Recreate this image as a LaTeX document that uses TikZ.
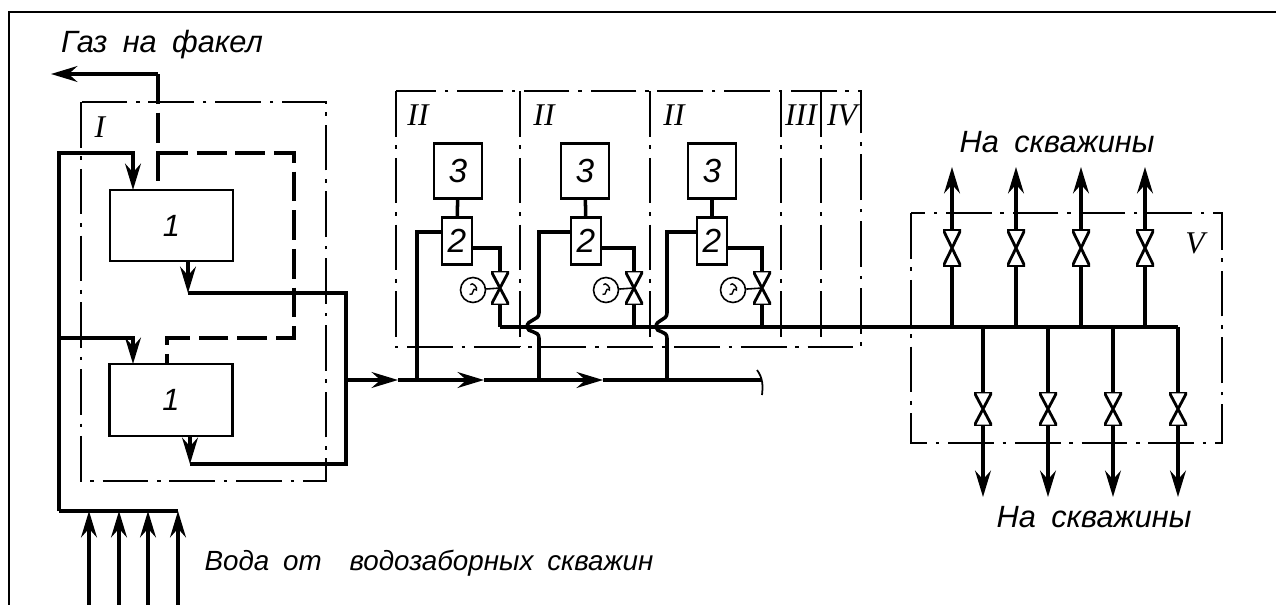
\documentclass[tikz,border=0pt]{standalone}
\usepackage{fontspec}
\setmainfont{Liberation Sans}
\newfontfamily\romfont{Liberation Serif}
\usetikzlibrary{arrows.meta,positioning,calc}

\begin{document}
\begin{tikzpicture}[x=0.02cm,y=-0.02cm,font=\itshape\fontsize{17.5}{20}\selectfont,
  >={Stealth[length=15pt,width=9pt,inset=5pt]},
  pipe/.style={line width=2pt,line join=miter},
  gasline/.style={pipe,dash pattern=on 17pt off 5pt},
  zone/.style={line width=0.9pt,dash pattern=on 26pt off 5pt on 2pt off 5pt},
  unit/.style={draw,line width=1.2pt,inner sep=0pt},
  rom/.style={font=\romfont\itshape\fontsize{18}{18}\selectfont,inner sep=0pt},
  valve/.style={inner sep=0pt,minimum width=0.36cm,minimum height=0.68cm,path picture={
    \draw[line width=1.6pt,fill=white] (path picture bounding box.north west) -- (path picture bounding box.south east)
      -- (path picture bounding box.south west) -- (path picture bounding box.north east) -- cycle;}}]
  \useasboundingbox (0,0) rectangle (1276,605);
  \draw[line width=1.3pt] (9,605) -- (9,12) -- (1276,12);

  % zones
  \draw[zone] (81,102) rectangle (326,481);
  \draw[zone] (396,91) rectangle (861,347);
  \foreach \xz in {520,650,781,821} \draw[zone] (\xz,91) -- (\xz,347);
  \draw[zone] (911,213) rectangle (1222,443);
  \node[rom] (zoneI) at (100,127) {I};
  \foreach \n/\xz in {a/418,b/544,c/674} \node[rom] (zoneII\n) at (\xz,115) {II};
  \node[rom] (zoneIII) at (801,115) {III};
  \node[rom] (zoneIV) at (842,115) {IV};
  \node[rom] (zoneV) at (1195,243) {V};

  % separators
  \node[unit,minimum width=2.46cm,minimum height=1.42cm] (sepa) at (171.5,225.5) {1};
  \node[unit,minimum width=2.46cm,minimum height=1.44cm] (sepb) at (171,400) {1};
  \coordinate (gasend) at (51,74);
  \coordinate (watertop) at (59,153);
  \coordinate (watermid) at (59,338);
  \coordinate (waterlow) at (59,511);
  \draw[pipe,->] (158,74) -- (gasend);
  \draw[gasline] (158,74) -- (158,190);
  \draw[gasline] (158,153) -| (294,338) -| (167,364);
  \draw[pipe,->] (waterlow) -- (watertop) -| (133,190);
  \draw[pipe,->] (watermid) -| (133,364);
  \draw[pipe] (waterlow) -- (178,511);
  \foreach \xw in {89,119,148,178} \draw[pipe,->] (\xw,605) -- (\xw,511);
  \draw[pipe,->] (188,261) -- (188,293);
  \draw[pipe,->] (190,436) -- (190,464);
  \draw[pipe] (188,293) -| (346,464) -- (190,464);

  % collector
  \coordinate (flowa) at (398,380);
  \coordinate (flowb) at (484,380);
  \coordinate (flowc) at (603,380);
  \coordinate (flowend) at (761,380);
  \draw[pipe,->] (346,380) -- (flowa);
  \draw[pipe,->] (flowa) -- (flowb);
  \draw[pipe,->] (flowb) -- (flowc);
  \draw[pipe] (flowc) -- (flowend);
  \draw[line width=1pt] (757,370) .. controls (763,378) and (763,386) .. (762,395);

  % pump blocks
  \foreach \n/\xt/\xm/\xv/\xg/\xp/\h in {1/458/457/500/473/417/0,2/585/586/634/606/539/-12,3/712/712/762/733/667/-11}{
    \node[unit,minimum width=0.96cm,minimum height=1.1cm] (tank\n) at (\xt,171) {\fontsize{19}{19}\selectfont 3};
    \node[unit,minimum width=0.6cm,minimum height=0.94cm] (pump\n) at (\xm,241) {\fontsize{19}{19}\selectfont 2};
    \node[valve] (gate\n) at (\xv,288) {};
    \node[draw,circle,line width=0.9pt,minimum size=0.5cm,inner sep=0pt] (gauge\n) at (\xg,290) {};
    \draw[line width=0.8pt] ([shift={(-2pt,-2.5pt)}]gauge\n.center) .. controls +(3pt,-1pt) and +(-3pt,2pt) .. ([shift={(2pt,0pt)}]gauge\n.center)
      .. controls +(1pt,1pt) and +(1pt,2pt) .. ([shift={(-1.5pt,3pt)}]gauge\n.center);
    \coordinate (hdr\n) at (\xv,327);
    \coordinate (tie\n) at (\xp,380);
    \draw[pipe] (tank\n) -- (pump\n);
    \draw[line width=0.9pt] (gauge\n) -- (gate\n.center);
    \draw[pipe] (pump\n.east |- 0,248) -| (gate\n.north);
    \draw[pipe] (gate\n.south) -- (hdr\n);
    \draw[pipe] (pump\n.west |- 0,232) -| (\xp,313) .. controls (\xp,321) and (\xp+\h,319) .. (\xp+\h,327)
      .. controls (\xp+\h,333) and (\xp,330) .. (\xp,338) -- (tie\n);
  }
  \draw[pipe] (hdr1) -- (1178,327);

  % wells
  \foreach \n/\xw in {1/952,2/1016,3/1081,4/1145}{
    \node[valve,minimum height=0.74cm] (upv\n) at (\xw,248) {};
    \coordinate (upj\n) at (\xw,327);
    \coordinate (upt\n) at (\xw,167);
    \draw[pipe] (upj\n) -- (upv\n.south);
    \draw[pipe,->] (upv\n.north) -- (upt\n);
  }
  \foreach \n/\xw in {1/983,2/1048,3/1113,4/1178}{
    \node[valve,minimum height=0.68cm] (downv\n) at (\xw,409) {};
    \coordinate (downj\n) at (\xw,327);
    \coordinate (downt\n) at (\xw,497);
    \draw[pipe] (downj\n) -- (downv\n.north);
    \draw[pipe,->] (downv\n.south) -- (downt\n);
  }

  \node (gaslabel) at (162,45) {Газ\enspace на\enspace факел};
  \node (uplabel) at (1057,142) {На\enspace скважины};
  \node (downlabel) at (1094,517) {На\enspace скважины};
  \node[font=\itshape\fontsize{15.8}{20}\selectfont] (waterlabel) at (429,563) {Вода\enspace от\quad водозаборных\enspace скважин};
\end{tikzpicture}
\end{document}
